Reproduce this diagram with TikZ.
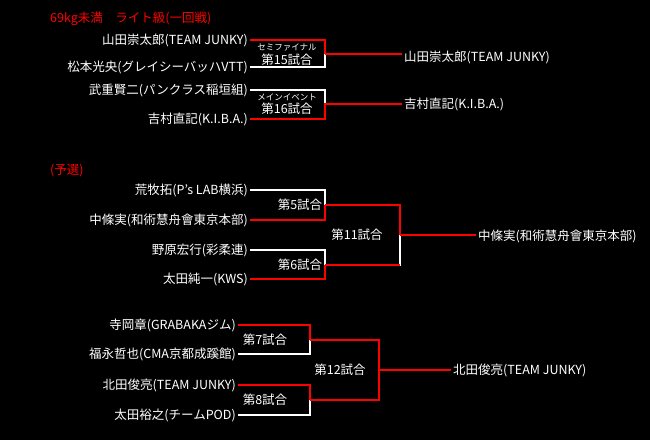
\documentclass[tikz,border=0pt]{standalone}
\usepackage{fontspec}
\setmainfont{Noto Sans CJK JP}
\begin{document}
\begin{tikzpicture}[x=1pt,y=-1pt,
    entrant/.style={anchor=east,text=white,font=\fontsize{12.5}{14}\selectfont,inner sep=2pt},
    winner/.style={anchor=west,text=white,font=\fontsize{12.5}{14}\selectfont,inner sep=2pt},
    bout/.style={text=white,font=\fontsize{12.5}{14}\selectfont,inner sep=1pt},
    sub/.style={text=white,font=\fontsize{8.5}{9}\selectfont,inner sep=1pt},
    head/.style={anchor=west,text=red,font=\fontsize{12.5}{14}\selectfont,inner sep=0pt},
    wl/.style={white,line width=1.6pt},
    rl/.style={red,line width=1.6pt}]
    \fill[black] (0,0) rectangle (650,440);
    \useasboundingbox (0,0) rectangle (650,440);
    % titles
    \node[head] (t1) at (50,19) {69kg未満　ライト級(一回戦)};
    \node[head] (t2) at (50,171) {(予選)};
    % one round
    \node[entrant] (a1) at (250,40) {山田崇太郎(TEAM JUNKY)};
    \node[entrant] (a2) at (250,67) {松本光央(グレイシーバッハVTT)};
    \node[entrant] (a3) at (250,90) {武重賢二(パンクラス稲垣組)};
    \node[entrant] (a4) at (250,119) {吉村直記(K.I.B.A.)};
    \node[sub] (s15) at (287,48) {セミファイナル};
    \node[bout] (b15) at (287,60) {第15試合};
    \node[sub] (s16) at (287,97) {メインイベント};
    \node[bout] (b16) at (287,109) {第16試合};
    \node[winner] (w15) at (402,57) {山田崇太郎(TEAM JUNKY)};
    \node[winner] (w16) at (402,104) {吉村直記(K.I.B.A.)};
    \coordinate (m15) at (325,54);
    \coordinate (m16) at (325,104);
    \draw[rl] (a1.east) -| (m15);
    \draw[wl] (a2.east) -| (m15);
    \draw[rl] (m15) -- (m15 -| w15.west);
    \draw[wl] (a3.east) -| (m16);
    \draw[rl] (a4.east) -| (m16) -- (w16.west);
    % qualifiers
    \node[entrant] (p1) at (250,190) {荒牧拓(P's LAB横浜)};
    \node[entrant] (p2) at (250,220) {中條実(和術慧舟會東京本部)};
    \node[entrant] (p3) at (250,250) {野原宏行(彩柔連)};
    \node[entrant] (p4) at (250,279) {太田純一(KWS)};
    \node[bout] (b5) at (300,205) {第5試合};
    \node[bout] (b6) at (300,265) {第6試合};
    \node[bout] (b11) at (357,235) {第11試合};
    \node[winner] (w11) at (476,236) {中條実(和術慧舟會東京本部)};
    \coordinate (m5) at (325,205);
    \coordinate (m6) at (325,265);
    \coordinate (m11) at (400,235);
    \draw[wl] (p1.east) -| (m5);
    \draw[rl] (p2.east) -| (m5);
    \draw[wl] (p3.east) -| (m6);
    \draw[rl] (p4.east) -| (m6);
    \draw[rl] (m5) -| (m11);
    \draw[wl] (m11) |- (m6);
    \draw[rl] (m6) -- (m6 -| m11);
    \draw[rl] (m11) -- (m11 -| w11.west);
    \node[entrant] (q1) at (238,325) {寺岡章(GRABAKAジム)};
    \node[entrant] (q2) at (238,354) {福永哲也(CMA京都成蹊館)};
    \node[entrant] (q3) at (238,385) {北田俊亮(TEAM JUNKY)};
    \node[entrant] (q4) at (238,415) {太田裕之(チームPOD)};
    \node[bout] (b7) at (265,340) {第7試合};
    \node[bout] (b8) at (265,400) {第8試合};
    \node[bout] (b12) at (340,370) {第12試合};
    \node[winner] (w12) at (451,370) {北田俊亮(TEAM JUNKY)};
    \coordinate (m7) at (310,340);
    \coordinate (m8) at (310,400);
    \coordinate (m12) at (379,370);
    \draw[rl] (q1.east) -| (m7);
    \draw[wl] (q2.east) -| (m7);
    \draw[rl] (q3.east) -| (m8);
    \draw[wl] (q4.east) -| (m8);
    \draw[rl] (m7) -| (m12) |- (m8);
    \draw[rl] (m12) -- (m12 -| w12.west);
\end{tikzpicture}
\end{document}
